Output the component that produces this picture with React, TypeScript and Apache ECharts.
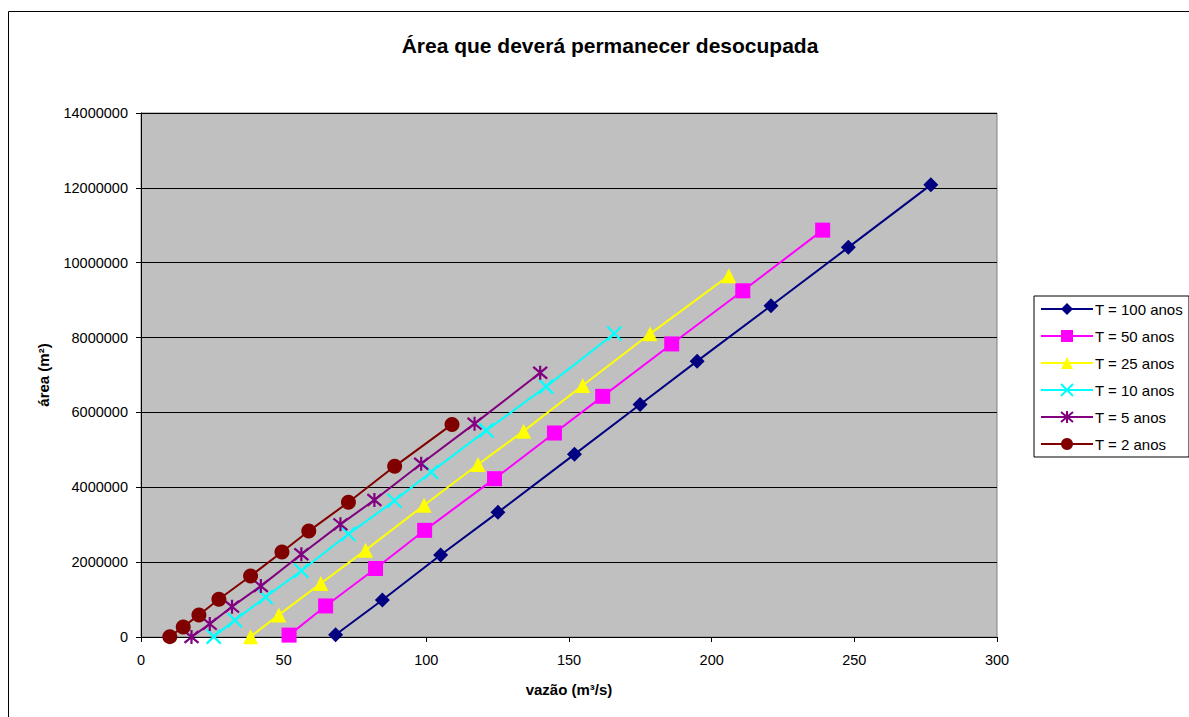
import { useEffect, useRef } from "react";
import * as echarts from "echarts";

const FONT = "'Liberation Sans', Arial, sans-serif";

const TITLE = "Área que deverá permanecer desocupada";
const X_NAME = "vazão (m³/s)";
const Y_NAME = "área (m²)";

const SERIES_NAMES = ["T = 100 anos", "T = 50 anos", "T = 25 anos", "T = 10 anos", "T = 5 anos", "T = 2 anos"];
const SERIES_COLORS = ["#000080", "#FF00FF", "#FFFF00", "#00FFFF", "#800080", "#800000"];

// discharge (m³/s) and area (m²) per return period
const Q_T100 = [68.2, 84.6, 105.0, 125.1, 151.9, 174.9, 194.9, 220.8, 247.9, 276.8];
const A_T100 = [60000, 990000, 2190000, 3330000, 4880000, 6210000, 7370000, 8850000, 10410000, 12080000];

const Q_T50 = [51.9, 64.7, 82.2, 99.4, 123.9, 144.9, 161.8, 186.0, 210.9, 238.9];
const A_T50 = [50000, 830000, 1830000, 2850000, 4230000, 5450000, 6430000, 7830000, 9250000, 10870000];

const Q_T25 = [38.4, 48.3, 63.0, 78.7, 99.2, 118.1, 134.1, 154.8, 178.4, 206.0];
const A_T25 = [10000, 590000, 1430000, 2320000, 3520000, 4610000, 5500000, 6720000, 8100000, 9650000];

const Q_T10 = [25.5, 32.9, 43.7, 56.2, 72.7, 88.8, 101.7, 121.0, 142.0, 165.9];
const A_T10 = [10000, 450000, 1070000, 1770000, 2750000, 3640000, 4410000, 5520000, 6690000, 8110000];

const Q_T5 = [17.7, 24.1, 31.9, 42.0, 56.2, 69.9, 81.8, 98.2, 116.9, 139.9];
const A_T5 = [0, 350000, 810000, 1360000, 2210000, 3010000, 3660000, 4630000, 5700000, 7060000];

const Q_T2 = [10.1, 14.8, 20.3, 27.3, 38.4, 49.4, 58.8, 72.7, 88.9, 109.0];
const A_T2 = [10000, 270000, 590000, 1010000, 1630000, 2270000, 2830000, 3600000, 4560000, 5680000];

const X_MIN = 0;
const X_MAX = 300;
const X_STEP = 50;
const Y_MIN = 0;
const Y_MAX = 14000000;
const Y_STEP = 2000000;

const X_MARK = "path://M0,0L10,10M10,0L0,10";
const STAR_MARK = "path://M0,1L10,11M10,1L0,11M5,0L5,12";

const SERIES_X = [Q_T100, Q_T50, Q_T25, Q_T10, Q_T5, Q_T2];
const SERIES_Y = [A_T100, A_T50, A_T25, A_T10, A_T5, A_T2];
const SERIES_SYMBOLS = ["diamond", "rect", "triangle", X_MARK, STAR_MARK, "circle"];
const SERIES_SYMBOL_SIZES = [15, 15, 15, 14, 14, 15];

export default function App() {
  const ref = useRef<HTMLDivElement>(null);

  useEffect(() => {
    if (!ref.current) return;
    const chart = echarts.init(ref.current, null, { renderer: "svg" });

    const series = SERIES_NAMES.map((name, i) => {
      const stroked = i === 3 || i === 4;
      return {
        name,
        type: "line",
        data: SERIES_X[i].map((q, k) => [q, SERIES_Y[i][k]]),
        symbol: SERIES_SYMBOLS[i],
        symbolSize: SERIES_SYMBOL_SIZES[i],
        showAllSymbol: true,
        clip: false,
        lineStyle: { color: SERIES_COLORS[i], width: 2 },
        itemStyle: stroked
          ? { color: SERIES_COLORS[i], borderColor: SERIES_COLORS[i], borderWidth: 2.2 }
          : { color: SERIES_COLORS[i], borderWidth: 0 },
        emphasis: { disabled: true },
      };
    });

    chart.setOption({
      animation: false,
      backgroundColor: "#ffffff",
      textStyle: { fontFamily: FONT, color: "#000" },
      title: {
        text: TITLE,
        left: 605,
        top: 30,
        textAlign: "center",
        textStyle: { fontFamily: FONT, fontSize: 21, fontWeight: "bold", color: "#000" },
      },
      graphic: [
        {
          type: "rect",
          shape: { x: 8.5, y: 11.5, width: 1400, height: 900 },
          style: { fill: "none", stroke: "#000", lineWidth: 1 },
          silent: true,
        },
      ],
      legend: {
        orient: "vertical",
        left: 1034,
        top: 296,
        padding: [5, 6, 5, 6],
        itemWidth: 52,
        itemHeight: 15,
        itemGap: 11,
        borderColor: "#000",
        borderWidth: 1,
        backgroundColor: "#fff",
        textStyle: { fontFamily: FONT, fontSize: 15, color: "#000", lineHeight: 16, padding: [0, 0, 0, -3] },
        data: SERIES_NAMES,
      },
      grid: {
        left: 141,
        top: 113,
        right: 192,
        bottom: 80,
        show: true,
        backgroundColor: "#C0C0C0",
        borderColor: "#808080",
        borderWidth: 1,
      },
      xAxis: {
        type: "value",
        min: X_MIN,
        max: X_MAX,
        interval: X_STEP,
        name: X_NAME,
        nameLocation: "middle",
        nameGap: 45,
        nameTextStyle: { fontFamily: FONT, fontSize: 15, fontWeight: "bold", color: "#000" },
        axisLine: { show: true, onZero: false, lineStyle: { color: "#000", width: 1 } },
        axisTick: { show: true, inside: false, length: 5, lineStyle: { color: "#000" } },
        axisLabel: { margin: 15, fontFamily: FONT, fontSize: 14.5, color: "#000", formatter: (v: number) => String(v) },
        splitLine: { show: false },
      },
      yAxis: {
        type: "value",
        min: Y_MIN,
        max: Y_MAX,
        interval: Y_STEP,
        name: Y_NAME,
        nameLocation: "middle",
        nameGap: 90,
        nameTextStyle: { fontFamily: FONT, fontSize: 15, fontWeight: "bold", color: "#000" },
        axisLine: { show: true, lineStyle: { color: "#000", width: 1 } },
        axisTick: { show: true, inside: false, length: 5, lineStyle: { color: "#000" } },
        axisLabel: { margin: 13, fontFamily: FONT, fontSize: 14.5, color: "#000", formatter: (v: number) => String(v) },
        splitLine: { show: true, lineStyle: { color: "#000", width: 1 } },
      },
      series,
    });

    return () => chart.dispose();
  }, []);

  return (
    <div
      ref={ref}
      style={{ position: "fixed", left: 0, top: 0, width: 1189, height: 717, background: "#fff" }}
    />
  );
}
